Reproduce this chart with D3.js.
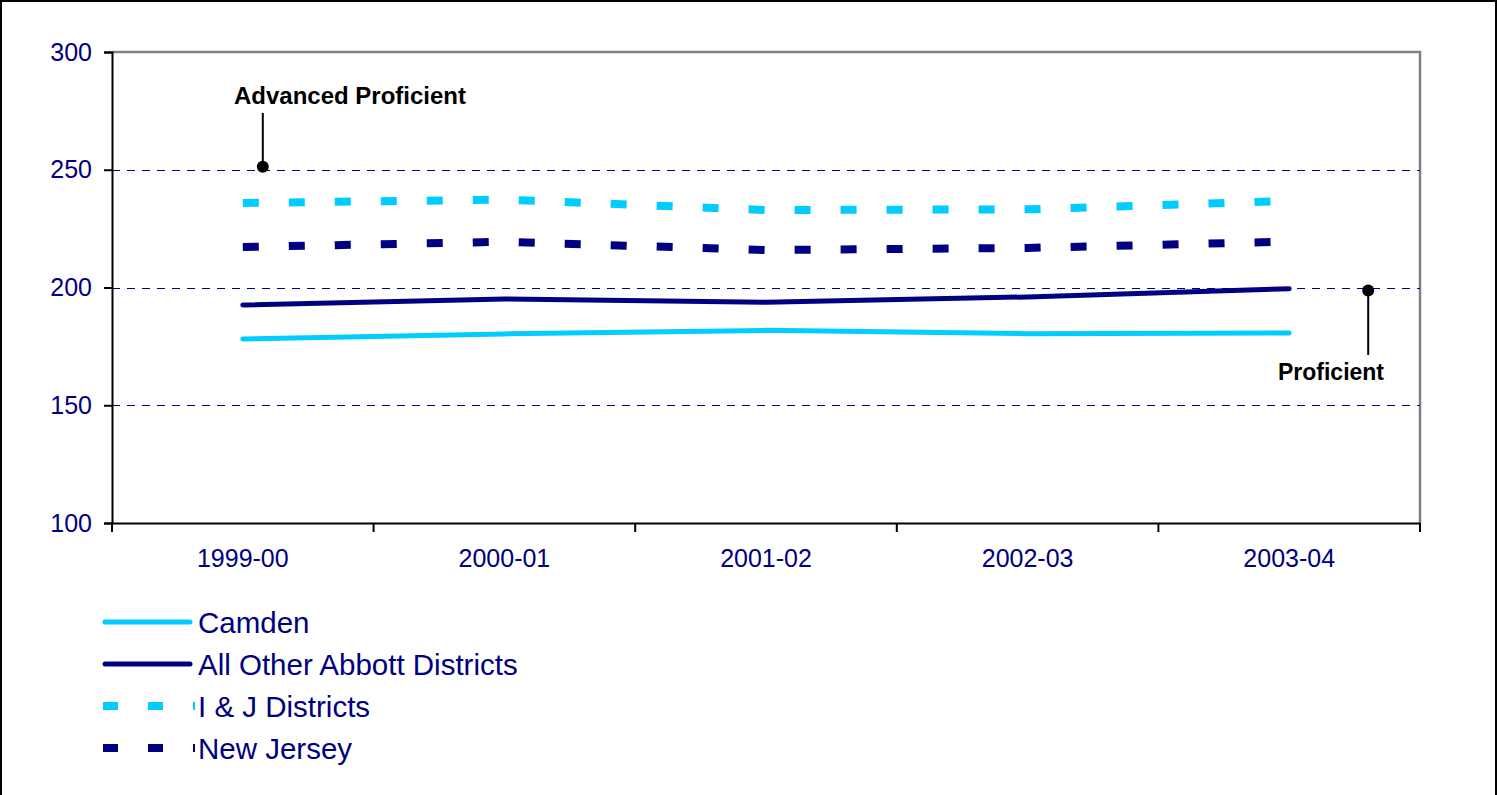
<!DOCTYPE html>
<html>
<head>
<meta charset="utf-8">
<script src="https://cdn.jsdelivr.net/npm/d3@7"></script>
<style>
  html, body { margin: 0; padding: 0; background: #fff; }
  svg { display: block; }
  text { font-family: "Liberation Sans", Arial, sans-serif; }
</style>
</head>
<body>
<svg id="chart" width="1499" height="795"></svg>
<script>
const categories = ["1999-00", "2000-01", "2001-02", "2002-03", "2003-04"];
const camden = [178.1, 180.3, 181.8, 180.4, 180.7];
const abbott = [192.6, 195.1, 193.7, 196.0, 199.5];
const ijDistricts = [235.9, 237.3, 232.9, 233.2, 236.8];
const newJersey = [217.2, 219.4, 215.9, 216.8, 219.5];
const yTicks = [100, 150, 200, 250, 300];
const gridValues = [150, 200, 250];
const seriesNames = ["Camden", "All Other Abbott Districts", "I & J Districts", "New Jersey"];
const annotations = [
  { label: "Advanced Proficient", cat: "1999-00", value: 250 },
  { label: "Proficient", cat: "2003-04", value: 200 }
];

(function () {
const series = [
  { name: seriesNames[0], values: camden, color: "#00CCFF", dashed: false },
  { name: seriesNames[1], values: abbott, color: "#000080", dashed: false },
  { name: seriesNames[2], values: ijDistricts, color: "#00CCFF", dashed: true },
  { name: seriesNames[3], values: newJersey, color: "#000080", dashed: true }
];

const svg = d3.select("#chart");
const pLeft = 112, pRight = 1420, pTop = 52, pBottom = 523;

// outer frame
svg.append("path").attr("d", `M1,795 L1,1 L1496,1 L1496,795`)
  .attr("fill", "none").attr("stroke", "#000").attr("stroke-width", 2);

const x = d3.scaleBand().domain(categories).range([pLeft, pRight]);
const y = d3.scaleLinear().domain([100, 300]).range([pBottom, pTop]);

// plot border top/right (gray)
svg.append("path").attr("d", `M${pLeft},${pTop} L${pRight},${pTop} L${pRight},${pBottom}`)
  .attr("fill", "none").attr("stroke", "#808080").attr("stroke-width", 2.5);

// gridlines
svg.append("g").selectAll("line").data(gridValues).join("line")
  .attr("x1", pLeft).attr("x2", pRight)
  .attr("y1", d => Math.round(y(d)) + 0.5).attr("y2", d => Math.round(y(d)) + 0.5)
  .attr("stroke", "#000080").attr("stroke-width", 1.3)
  .attr("shape-rendering", "crispEdges")
  .attr("stroke-dasharray", "8,7");

// y axis
const yAxis = svg.append("g").attr("transform", `translate(${pLeft},0)`)
  .call(d3.axisLeft(y).tickValues(yTicks).tickSize(8).tickPadding(12).tickFormat(d3.format("d")));
yAxis.select(".domain").attr("stroke", "#000").attr("stroke-width", 2);
yAxis.selectAll(".tick line").attr("stroke", "#000").attr("stroke-width", 2);
yAxis.selectAll(".tick text").attr("fill", "#000080").style("font-size", "25px")
  .style("font-family", "'Liberation Sans', Arial, sans-serif");

// x axis
const xAxis = svg.append("g").attr("transform", `translate(0,${pBottom})`)
  .call(d3.axisBottom(x).tickSize(0).tickPadding(26));
xAxis.select(".domain").attr("stroke", "#000").attr("stroke-width", 2);
xAxis.selectAll(".tick text").attr("fill", "#000080").style("font-size", "25px")
  .style("font-family", "'Liberation Sans', Arial, sans-serif");
// band boundary ticks
const bounds = categories.map(c => x(c)).concat([x(categories[categories.length - 1]) + x.bandwidth()]);
svg.append("g").selectAll("line").data(bounds).join("line")
  .attr("x1", d => d).attr("x2", d => d).attr("y1", pBottom).attr("y2", pBottom + 9)
  .attr("stroke", "#000").attr("stroke-width", 2);

// lines
const line = d3.line()
  .x((d, i) => x(categories[i]) + x.bandwidth() / 2)
  .y(d => y(d));

series.forEach(s => {
  svg.append("path").datum(s.values)
    .attr("d", line)
    .attr("fill", "none")
    .attr("stroke", s.color)
    .attr("stroke-width", s.dashed ? 8 : 5)
    .attr("stroke-linecap", s.dashed ? "butt" : "round")
    .attr("stroke-linejoin", "round")
    .attr("stroke-dasharray", s.dashed ? "16,30" : null);
});

// annotations
const a1 = annotations[0];
const a1x = x(a1.cat) + x.bandwidth() / 2 + 20;
svg.append("line").attr("x1", a1x).attr("x2", a1x).attr("y1", 113).attr("y2", y(a1.value))
  .attr("stroke", "#000").attr("stroke-width", 2);
svg.append("circle").attr("cx", a1x).attr("cy", y(a1.value) - 3).attr("r", 6).attr("fill", "#000");
svg.append("text").attr("x", 350).attr("y", 104).attr("text-anchor", "middle")
  .style("font-size", "24px").style("font-weight", "bold").attr("fill", "#000").text(a1.label);

const a2 = annotations[1];
const a2x = x(a2.cat) + x.bandwidth() / 2 + 79;
svg.append("line").attr("x1", a2x).attr("x2", a2x).attr("y1", y(a2.value) + 2).attr("y2", 355)
  .attr("stroke", "#000").attr("stroke-width", 2);
svg.append("circle").attr("cx", a2x).attr("cy", y(a2.value) + 3).attr("r", 6).attr("fill", "#000");
svg.append("text").attr("x", 1331).attr("y", 380).attr("text-anchor", "middle")
  .style("font-size", "23px").style("font-weight", "bold").attr("fill", "#000").text(a2.label);

// legend
const legend = svg.append("g");
series.forEach((s, i) => {
  const ly = 622 + i * 42;
  legend.append("line")
    .attr("x1", s.dashed ? 103 : 105).attr("x2", s.dashed ? 195 : 190)
    .attr("y1", ly).attr("y2", ly)
    .attr("stroke", s.color)
    .attr("stroke-width", s.dashed ? 8 : 5)
    .attr("stroke-linecap", s.dashed ? "butt" : "round")
    .attr("stroke-dasharray", s.dashed ? "15,30" : null);
  legend.append("text").attr("x", 198).attr("y", ly + 11)
    .attr("fill", "#000080").style("font-size", "29.5px").text(s.name);
});
})();
</script>
</body>
</html>
